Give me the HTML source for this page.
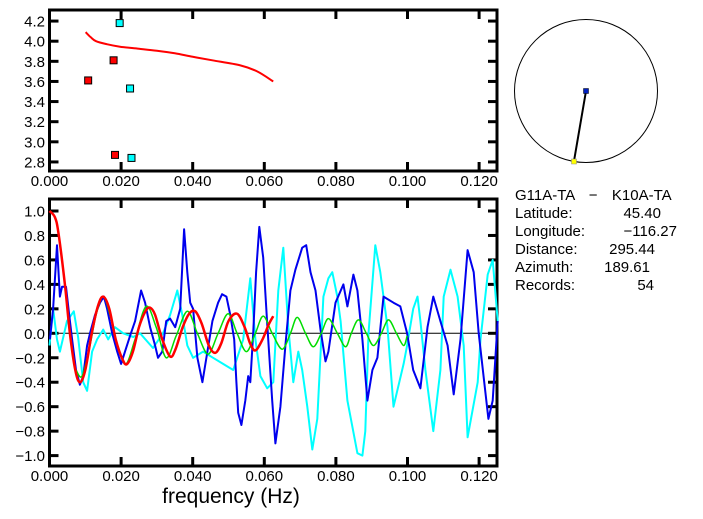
<!DOCTYPE html>
<html><head><meta charset="utf-8"><style>
html,body{margin:0;padding:0;background:#fff;}
svg{display:block;font-family:"Liberation Sans",sans-serif;}
.tl{font-size:15px;fill:#000;}
.info{font-family:"Liberation Sans",sans-serif;font-size:15px;fill:#000;}
</style></head><body>
<svg id="c" width="703" height="519" viewBox="0 0 703 519">
<g id="topPanel"></g>
<g id="botPanel"></g>
<g id="map">
 <circle cx="586" cy="91" r="71.5" fill="none" stroke="#000" stroke-width="1"/>
 <line x1="574" y1="161" x2="586" y2="91" stroke="#000" stroke-width="2"/>
 <rect x="583.5" y="88.5" width="5" height="5" fill="#0020c0" stroke="#000" stroke-width="0.5"/>
 <rect x="571.5" y="159" width="5" height="5" fill="#ffff00" stroke="#888" stroke-width="0.5"/>
</g>
<g>
 <text class="info" x="515" y="200" xml:space="preserve" style="white-space:pre;word-spacing:3px">G11A-TA  −  K10A-TA</text>
 <text class="info" x="515" y="218">Latitude:</text><text class="info" x="661" y="218" text-anchor="end">45.40</text>
 <text class="info" x="515" y="236">Longitude:</text><text class="info" x="677" y="236" text-anchor="end">−116.27</text>
 <text class="info" x="515" y="254">Distance:</text><text class="info" x="655" y="254" text-anchor="end">295.44</text>
 <text class="info" x="515" y="272">Azimuth:</text><text class="info" x="650" y="272" text-anchor="end">189.61</text>
 <text class="info" x="515" y="290">Records:</text><text class="info" x="654" y="290" text-anchor="end">54</text>
</g>
</svg>
<script>
const xTicks=[0,0.02,0.04,0.06,0.08,0.10,0.12];
const xTickLabels=["0.000","0.020","0.040","0.060","0.080","0.100","0.120"];
const topYTicks=[2.8,3.0,3.2,3.4,3.6,3.8,4.0,4.2];
const botYTicks=[-1.0,-0.8,-0.6,-0.4,-0.2,0.0,0.2,0.4,0.6,0.8,1.0];
// top panel
const velFreq=[0.0101,0.0115,0.013,0.016,0.0197,0.025,0.030,0.035,0.040,0.0455,0.0533,0.058,0.0625];
const velValue=[4.09,4.04,4.00,3.97,3.945,3.925,3.905,3.88,3.845,3.81,3.76,3.70,3.60];
const redPtFreq=[0.0108,0.0179,0.0183];
const redPtValue=[3.61,3.81,2.87];
const cyanPtFreq=[0.0196,0.0225,0.0229];
const cyanPtValue=[4.18,3.53,2.84];
// bottom panel
const blueFreq=[0.0001,0.0010,0.0021,0.0029,0.0035,0.0046,0.0055,0.0063,0.0074,0.0085,0.0094,0.0105,0.0113,0.0127,0.0141,0.0152,0.0161,0.0175,0.0189,0.0200,0.0211,0.0225,0.0239,0.0256,0.0267,0.0281,0.0295,0.0303,0.0315,0.0326,0.0337,0.0351,0.0365,0.0376,0.0385,0.0393,0.0401,0.0413,0.0427,0.0441,0.0455,0.0471,0.0482,0.0494,0.0505,0.0516,0.0522,0.0527,0.0536,0.0547,0.0555,0.0561,0.0569,0.0577,0.0586,0.0597,0.0608,0.0622,0.0631,0.0645,0.0659,0.0673,0.0687,0.0706,0.0717,0.0729,0.0743,0.0757,0.0771,0.0779,0.0799,0.0821,0.0832,0.0849,0.0860,0.0874,0.0888,0.0902,0.0916,0.0933,0.0961,0.0980,0.0999,0.1016,0.1036,0.1056,0.1072,0.1092,0.1112,0.1129,0.1148,0.1168,0.1185,0.1199,0.1226,0.1238,0.1252];
const blueValue=[-0.05,0.2,0.72,0.3,0.38,0.38,0.15,-0.05,-0.3,-0.42,-0.35,-0.1,0.0,0.15,0.25,0.3,0.2,0.0,-0.15,-0.25,-0.15,-0.02,0.1,0.35,0.25,0.05,-0.1,-0.2,-0.15,0.1,0.12,0.05,0.2,0.85,0.5,0.25,0.2,-0.2,-0.4,-0.15,0.1,0.25,0.32,0.3,0.15,-0.05,-0.4,-0.65,-0.75,-0.55,-0.35,-0.4,0.0,0.5,0.87,0.62,0.08,-0.55,-0.9,-0.6,-0.1,0.35,0.52,0.7,0.72,0.5,0.35,0.03,-0.23,-0.15,0.25,0.4,0.22,0.48,0.35,-0.05,-0.55,-0.3,-0.2,0.3,0.25,0.22,0.0,-0.3,-0.45,0.05,0.3,0.1,-0.1,-0.5,-0.05,0.68,0.5,0.0,-0.7,-0.55,0.1];
const cyanFreq=[0.0000,0.0010,0.0021,0.0029,0.0049,0.0068,0.0080,0.0094,0.0105,0.0119,0.0133,0.0150,0.0164,0.0183,0.0206,0.0234,0.0253,0.0289,0.0317,0.0337,0.0357,0.0371,0.0385,0.0401,0.0429,0.0457,0.0485,0.0513,0.0541,0.0561,0.0575,0.0589,0.0608,0.0625,0.0639,0.0653,0.0667,0.0681,0.0695,0.0706,0.0720,0.0734,0.0748,0.0765,0.0779,0.0790,0.0804,0.0813,0.0832,0.0860,0.0874,0.0882,0.0891,0.0910,0.0924,0.0944,0.0961,0.0989,0.0999,0.1016,0.1028,0.1036,0.1050,0.1072,0.1092,0.1101,0.1120,0.1140,0.1157,0.1168,0.1196,0.1204,0.1224,0.1238,0.1252];
const cyanValue=[-0.1,0.2,-0.05,-0.15,0.1,0.18,-0.03,-0.4,-0.47,-0.15,-0.05,0.03,-0.05,0.05,0.0,-0.03,0.0,-0.12,0.0,0.15,0.35,0.15,-0.1,-0.2,-0.15,-0.2,-0.25,-0.3,-0.05,0.45,-0.05,-0.35,-0.45,-0.4,0.35,0.7,0.05,-0.4,-0.15,-0.3,-0.6,-0.95,-0.7,0.3,0.45,0.5,0.3,0.1,-0.55,-0.98,-1.0,-0.8,0.0,0.72,0.5,0.05,-0.6,-0.25,-0.1,0.2,0.3,0.1,-0.3,-0.8,-0.3,0.3,0.52,0.3,-0.1,-0.85,-0.4,-0.05,0.48,0.6,0.1];
const redFreq=[0,0.0015,0.0025,0.0043,0.0057,0.0072,0.0085,0.0100,0.0118,0.0135,0.0150,0.0167,0.0185,0.0205,0.0217,0.0233,0.0250,0.0268,0.0281,0.0295,0.0315,0.0337,0.0352,0.0372,0.0390,0.0407,0.0425,0.0445,0.0463,0.0480,0.0500,0.0524,0.0545,0.0560,0.0575,0.0595,0.0612,0.0625];
const redValue=[1.0,0.95,0.82,0.4,0.0,-0.3,-0.4,-0.3,0.0,0.22,0.3,0.2,-0.05,-0.22,-0.25,-0.15,0.05,0.18,0.21,0.15,-0.05,-0.19,-0.13,0.05,0.16,0.18,0.08,-0.1,-0.16,-0.08,0.1,0.16,0.05,-0.08,-0.14,-0.05,0.07,0.14];
const greenFreq=[0.0074,0.0091,0.0113,0.0130,0.0150,0.0169,0.0192,0.0214,0.0239,0.0270,0.0298,0.0326,0.0354,0.0385,0.0413,0.0443,0.0471,0.0499,0.0524,0.0550,0.0575,0.0597,0.0622,0.0650,0.0673,0.0692,0.0715,0.0737,0.0759,0.0779,0.0804,0.0827,0.0843,0.0863,0.0885,0.0905,0.0927,0.0947,0.0969,0.0989,0.0999];
const greenValue=[-0.3,-0.35,-0.1,0.15,0.3,0.15,-0.12,-0.25,-0.05,0.22,0.05,-0.2,-0.02,0.18,0.0,-0.17,0.0,0.16,0.0,-0.15,0.0,0.14,0.0,-0.13,0.0,0.13,0.0,-0.11,0.0,0.12,0.0,-0.11,0.0,0.11,0.0,-0.1,0.0,0.11,0.0,-0.1,-0.02];

const NS="http://www.w3.org/2000/svg";
const L=49.5,R=497;
function xs(f){return L+f*(R-L)/0.125;}
const tyTop=10,tyBot=171,tvTop=4.31,tvBot=2.71;
function yt(v){return tyTop+(tvTop-v)*(tyBot-tyTop)/(tvTop-tvBot);}
const byTop=199,byBot=466;
function yb(v){return 333.3-v*122.3;}
function mk(tag,attrs,parent){const e=document.createElementNS(NS,tag);for(const k in attrs)e.setAttribute(k,attrs[k]);parent.appendChild(e);return e;}
function path(fr,vals,ysc){return fr.map((f,i)=>(i?"L":"M")+xs(f).toFixed(1)+","+ysc(vals[i]).toFixed(1)).join("");}
function smooth(fr,vals,ysc){const p=fr.map((f,i)=>[xs(f),ysc(vals[i])]);let d="M"+p[0][0]+","+p[0][1];for(let i=0;i<p.length-1;i++){const p0=p[i-1]||p[i],p1=p[i],p2=p[i+1],p3=p[i+2]||p2;d+="C"+(p1[0]+(p2[0]-p0[0])/6)+","+(p1[1]+(p2[1]-p0[1])/6)+" "+(p2[0]-(p3[0]-p1[0])/6)+","+(p2[1]-(p3[1]-p1[1])/6)+" "+p2[0]+","+p2[1];}return d;}

function frame(g,t0,b0,yTicks,ysc,name){
  const b=mk("rect",{x:L,y:t0,width:R-L,height:b0-t0,fill:"none",stroke:"#000","stroke-width":3},g);
  
  
  xTicks.forEach((t,i)=>{
    const x=xs(t);
    const a=mk("line",{x1:x,y1:b0,x2:x,y2:b0-9,stroke:"#000","stroke-width":3},g);
    
    
    const c=mk("line",{x1:x,y1:t0,x2:x,y2:t0+9,stroke:"#000","stroke-width":3},g);
    
    
    const tx=mk("text",{x:x,y:b0+15,"text-anchor":"middle",class:"tl"},g);tx.textContent=xTickLabels[i];
    
    
  });
  yTicks.forEach(t=>{
    const y=ysc(t);
    const a=mk("line",{x1:L,y1:y,x2:L+9,y2:y,stroke:"#000","stroke-width":3},g);
    
    
    const c=mk("line",{x1:R,y1:y,x2:R-9,y2:y,stroke:"#000","stroke-width":3},g);
    
    
    const tx=mk("text",{x:45,y:y+5.5,"text-anchor":"end",class:"tl"},g);tx.textContent=t.toFixed(1).replace("-","−");
    
    
  });
}
const topG=document.getElementById("topPanel"),botG=document.getElementById("botPanel");
frame(topG,tyTop,tyBot,topYTicks,yt,"top");
const vc=mk("path",{d:smooth(velFreq,velValue,yt),fill:"none",stroke:"#ff0000","stroke-width":2},topG);


function squares(fr,vals,col,nm){fr.forEach((f,i)=>{const s=mk("rect",{x:xs(f)-3.5,y:yt(vals[i])-3.5,width:7,height:7,fill:col,stroke:"#000","stroke-width":1},topG);
 
 });}
squares(redPtFreq,redPtValue,"#ff0000","red-measurement");
squares(cyanPtFreq,cyanPtValue,"#00ffff","cyan-measurement");

frame(botG,byTop,byBot,botYTicks,yb,"bottom");
const zl=mk("line",{x1:L,y1:yb(0),x2:R,y2:yb(0),stroke:"#000","stroke-width":1},botG);


const cy=mk("path",{d:path(cyanFreq,cyanValue,yb),fill:"none",stroke:"#00ffff","stroke-width":2,"stroke-linejoin":"round"},botG);


const bl=mk("path",{d:path(blueFreq,blueValue,yb),fill:"none",stroke:"#0000ee","stroke-width":2,"stroke-linejoin":"round"},botG);


const gr=mk("path",{d:smooth(greenFreq,greenValue,yb),fill:"none",stroke:"#00dd00","stroke-width":1.5},botG);


const rd=mk("path",{d:smooth(redFreq,redValue,yb),fill:"none",stroke:"#ff0000","stroke-width":2.5},botG);


const xt=mk("text",{x:231,y:503,"text-anchor":"middle","font-size":"21",fill:"#000"},botG);xt.textContent="frequency (Hz)";


</script>
</body></html>
